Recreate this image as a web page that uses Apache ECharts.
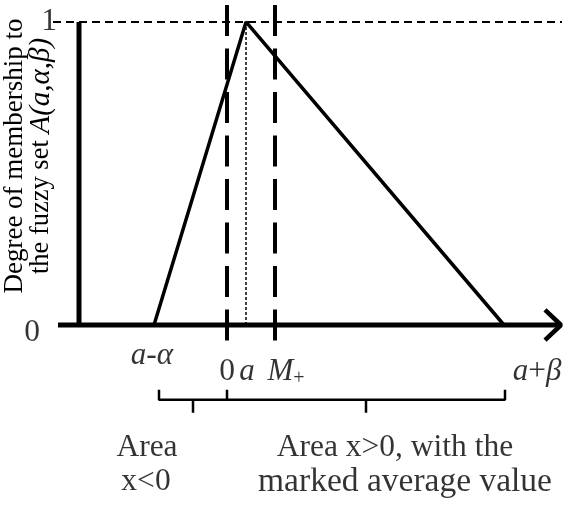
<!DOCTYPE html>
<html>
<head>
<meta charset="utf-8">
<script src="https://cdn.jsdelivr.net/npm/echarts@6/dist/echarts.min.js"></script>
<style>
  html, body { margin: 0; padding: 0; background: #fff; }
  #chart { width: 568px; height: 514px; }
</style>
</head>
<body>
<div id="chart"></div>
<script>
// Triangular fuzzy number A(a, α, β) on the real axis
const leftFoot = -7.3;      // a - α
const peak = 1.9;           // a
const rightFoot = 27.7;     // a + β
const meanPositive = 4.8;   // M+
const membershipX = [leftFoot, peak, rightFoot];
const membershipY = [0, 1, 0];

// Braces that mark the areas below the axis
const braceLeft = -6.8;
const braceRight = 27.8;

// Axis extent
const xMin = -22.7, xMax = 33.5;
const yMin = -0.6, yMax = 1.06;
const axisStart = -16.9;
const yAxisPos = -14.8;
const guideTop = 1.056, guideBottom = -0.056;

const serif = "'Liberation Serif', 'Times New Roman', serif";

function seg(points, width, type) {
  return {
    type: 'line', data: points, symbol: 'none', silent: true, animation: false,
    lineStyle: { color: '#000', width: width, type: type || 'solid', cap: 'butt' },
    z: 3
  };
}

const membership = membershipX.map((x, i) => [x, membershipY[i]]);

const series = [
  // dashed level of full membership
  seg([[-17.4, 1], [xMax, 1]], 2, [8, 5]),
  // vertical axis
  seg([[yAxisPos, 0], [yAxisPos, 1]], 5),
  // horizontal axis with arrow head
  seg([[axisStart, 0], [xMax - 0.2, 0]], 5),
  seg([[xMax - 1.7, 0.05], [xMax - 0.1, 0], [xMax - 1.7, -0.05]], 4.5),
  // membership function
  seg(membership, 3.5),
  // zero and mean markers
  seg([[0, guideTop], [0, guideBottom]], 4, [31, 12.5]),
  seg([[meanPositive, guideTop], [meanPositive, guideBottom]], 4, [31, 12.5]),
  // peak drop line
  seg([[peak, 1], [peak, 0]], 1.5, [3, 2]),
  // braces
  seg([[braceLeft, -0.214], [braceLeft, -0.247], [braceRight, -0.247], [braceRight, -0.214]], 2.5),
  seg([[0, -0.214], [0, -0.247]], 2.5),
  seg([[(braceLeft + 0) / 2, -0.247], [(braceLeft + 0) / 2, -0.29]], 2.5),
  seg([[(0 + braceRight) / 2, -0.247], [(0 + braceRight) / 2, -0.29]], 2.5),
  // text labels
  {
    type: 'scatter', symbolSize: 0, silent: true, animation: false, z: 5, clip: false,
    data: [
      { value: [leftFoot - 0.2, -0.102], name: '{i|a}-{i|α}' },
      { value: [0, -0.155], name: '0' },
      { value: [peak + 0.1, -0.155], name: '{i|a}' },
      { value: [meanPositive + 1.1, -0.155], name: '{i|M}{sub|+}' },
      { value: [rightFoot + 3.3, -0.155], name: '{i|a}+{i|β}' },
      { value: [-17.8, 1], name: '1' },
      { value: [-19.5, -0.026], name: '0' },
      { value: [-8.0, -0.406], name: 'Area' },
      { value: [-8.1, -0.518], name: 'x<0' },
      { value: [16.8, -0.406], name: 'Area x>0, with the' },
      { value: [17.8, -0.518], name: '{w|marked average value}' }
    ],
    label: {
      show: true, position: 'inside', color: '#000',
      fontFamily: serif, fontSize: 31.5, lineHeight: 34, align: 'center',
      formatter: p => p.name,
      rich: {
        i: { fontStyle: 'italic', fontFamily: serif, fontSize: 31, color: '#000' },
        sub: { fontFamily: serif, fontSize: 20, padding: [14, 0, 0, 0], color: '#000' },
        w: { fontFamily: serif, fontSize: 33.5, color: '#000' }
      }
    }
  }
];

const chart = echarts.init(document.getElementById('chart'), null, { renderer: 'canvas' });
chart.setOption({
  backgroundColor: '#fff',
  animation: false,
  grid: { left: 0, right: 6, top: 3.8, bottom: 7.2 },
  xAxis: { type: 'value', min: xMin, max: xMax, show: false },
  yAxis: { type: 'value', min: yMin, max: yMax, show: false },
  series: series,
  graphic: [{
    type: 'text', x: 28, y: 156, rotation: Math.PI / 2, z: 10,
    style: {
      text: '{m|Degree of membership to}\n{n|the fuzzy set }{i|A(a,α,β)}',
      fontFamily: serif, fontSize: 26, lineHeight: 26, fill: '#000',
      align: 'center', verticalAlign: 'middle',
      rich: {
        m: { fontFamily: serif, fontSize: 27, lineHeight: 26, fill: '#000' },
        n: { fontFamily: serif, fontSize: 26.5, lineHeight: 26, fill: '#000' },
        i: { fontStyle: 'italic', fontFamily: serif, fontSize: 29, lineHeight: 26, fill: '#000' }
      }
    }
  }]
});
</script>
</body>
</html>
